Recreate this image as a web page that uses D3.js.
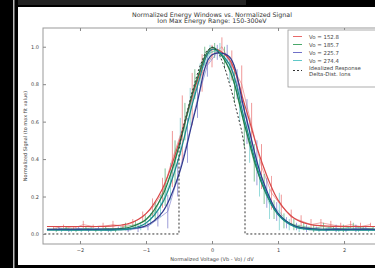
<!DOCTYPE html>
<html>
<head>
<meta charset="utf-8">
<script src="https://cdn.jsdelivr.net/npm/d3@7"></script>
<style>
  body { margin: 0; background: #000; }
  svg { display: block; }
</style>
</head>
<body>
<div class="canvas"></div>
<script>
// ---------- data ----------
var seriesNames = ["Vo = 152.8", "Vo = 185.7", "Vo = 225.7", "Vo = 274.4"];

var fitX = [-2.5, -2.25, -2, -1.75, -1.5, -1.25, -1, -0.75, -0.5, -0.25, 0, 0.25, 0.5, 0.75, 1, 1.25, 1.5, 1.75, 2, 2.25, 2.5];
var fitRed   = [0.040, 0.040, 0.040, 0.040, 0.043, 0.057, 0.109, 0.242, 0.488, 0.790, 0.986, 0.939, 0.684, 0.388, 0.181, 0.083, 0.050, 0.042, 0.040, 0.040, 0.040];
var fitGreen = [0.025, 0.025, 0.025, 0.025, 0.027, 0.036, 0.077, 0.205, 0.468, 0.802, 0.996, 0.890, 0.575, 0.274, 0.106, 0.044, 0.028, 0.025, 0.025, 0.025, 0.025];
var fitBlue  = [0.025, 0.025, 0.025, 0.025, 0.025, 0.028, 0.044, 0.117, 0.319, 0.661, 0.957, 0.950, 0.646, 0.307, 0.112, 0.043, 0.028, 0.025, 0.025, 0.025, 0.025];
var fitCyan  = [0.020, 0.020, 0.020, 0.020, 0.021, 0.027, 0.058, 0.166, 0.410, 0.753, 0.986, 0.914, 0.600, 0.284, 0.104, 0.039, 0.023, 0.020, 0.020, 0.020, 0.020];

var redX = [-2.4, -2.25, -2.1, -1.95, -1.8, -1.65, -1.5, -1.35, -1.2, -1.05, -0.9, -0.75, -0.6, -0.45, -0.3, -0.15, 0, 0.15, 0.3, 0.45, 0.6, 0.75, 0.9, 1.05, 1.2, 1.35, 1.5, 1.65, 1.8, 1.95, 2.1, 2.25, 2.4];
var redY = [0.03, 0.04, 0.03, 0.05, 0.04, 0.04, 0.05, 0.04, 0.06, 0.09, 0.14, 0.22, 0.40, 0.56, 0.72, 0.86, 0.95, 1.00, 0.90, 0.80, 0.58, 0.36, 0.22, 0.15, 0.09, 0.07, 0.05, 0.06, 0.05, 0.04, 0.05, 0.04, 0.05];
var redErr = [0.01, 0.01, 0.01, 0.02, 0.01, 0.02, 0.02, 0.01, 0.02, 0.03, 0.05, 0.08, 0.15, 0.18, 0.14, 0.10, 0.06, 0.05, 0.08, 0.10, 0.12, 0.12, 0.09, 0.06, 0.04, 0.03, 0.03, 0.02, 0.02, 0.02, 0.02, 0.02, 0.01];

var greenX = [-2.36, -2.21, -2.06, -1.91, -1.76, -1.61, -1.46, -1.31, -1.16, -1.01, -0.86, -0.71, -0.56, -0.41, -0.26, -0.11, 0.04, 0.19, 0.34, 0.49, 0.64, 0.79, 0.94, 1.09, 1.24, 1.39, 1.54, 1.69, 1.84, 1.99, 2.14, 2.29, 2.44];
var greenY = [0.02, 0.03, 0.02, 0.03, 0.02, 0.03, 0.02, 0.04, 0.05, 0.07, 0.12, 0.25, 0.38, 0.60, 0.80, 0.95, 0.98, 0.94, 0.80, 0.58, 0.38, 0.24, 0.13, 0.07, 0.05, 0.04, 0.03, 0.04, 0.03, 0.03, 0.04, 0.03, 0.03];
var greenErr = [0.01, 0.01, 0.01, 0.01, 0.01, 0.01, 0.01, 0.02, 0.02, 0.03, 0.05, 0.10, 0.12, 0.10, 0.08, 0.05, 0.04, 0.06, 0.10, 0.12, 0.10, 0.08, 0.05, 0.04, 0.03, 0.02, 0.02, 0.02, 0.01, 0.02, 0.02, 0.01, 0.01];

var blueX = [-2.32, -2.17, -2.02, -1.87, -1.72, -1.57, -1.42, -1.27, -1.12, -0.97, -0.82, -0.67, -0.52, -0.37, -0.22, -0.07, 0.08, 0.23, 0.38, 0.53, 0.68, 0.83, 0.98, 1.13, 1.28, 1.43, 1.58, 1.73, 1.88, 2.03, 2.18, 2.33, 2.48];
var blueY = [0.03, 0.02, 0.03, 0.02, 0.03, 0.02, 0.03, 0.02, 0.03, 0.04, 0.08, 0.12, 0.30, 0.50, 0.72, 0.90, 0.97, 0.96, 0.80, 0.60, 0.38, 0.22, 0.12, 0.06, 0.04, 0.03, 0.03, 0.02, 0.03, 0.02, 0.03, 0.03, 0.02];
var blueErr = [0.01, 0.01, 0.01, 0.01, 0.01, 0.01, 0.01, 0.01, 0.02, 0.02, 0.04, 0.09, 0.10, 0.12, 0.10, 0.06, 0.04, 0.05, 0.08, 0.12, 0.12, 0.08, 0.05, 0.03, 0.02, 0.02, 0.01, 0.01, 0.02, 0.01, 0.02, 0.01, 0.01];

var cyanX = [-2.28, -2.13, -1.98, -1.83, -1.68, -1.53, -1.38, -1.23, -1.08, -0.93, -0.78, -0.63, -0.48, -0.33, -0.18, -0.03, 0.12, 0.27, 0.42, 0.57, 0.72, 0.87, 1.02, 1.17, 1.32, 1.47, 1.62, 1.77, 1.92, 2.07, 2.22, 2.37, 2.52];
var cyanY = [0.02, 0.02, 0.02, 0.03, 0.02, 0.02, 0.03, 0.03, 0.04, 0.08, 0.15, 0.28, 0.52, 0.68, 0.85, 0.97, 0.98, 0.88, 0.70, 0.50, 0.30, 0.16, 0.12, 0.05, 0.03, 0.03, 0.02, 0.03, 0.02, 0.03, 0.02, 0.02, 0.02];
var cyanErr = [0.01, 0.01, 0.01, 0.01, 0.01, 0.01, 0.01, 0.01, 0.02, 0.03, 0.06, 0.10, 0.10, 0.10, 0.06, 0.04, 0.04, 0.07, 0.10, 0.12, 0.10, 0.08, 0.10, 0.03, 0.02, 0.01, 0.01, 0.01, 0.01, 0.01, 0.01, 0.01, 0.01];

// idealized response for delta-distributed ions
var idealX = [-2.6, -0.5, -0.5, -0.45, -0.4, -0.3, -0.2, -0.1, 0, 0.1, 0.2, 0.3, 0.4, 0.45, 0.5, 0.5, 2.6];
var idealY = [0, 0, 0.45, 0.55, 0.62, 0.76, 0.88, 0.97, 1.0, 0.97, 0.88, 0.76, 0.62, 0.55, 0.45, 0, 0];

var xTicks = [-2, -1, 0, 1, 2];
var yTicks = [0, 0.2, 0.4, 0.6, 0.8, 1.0];

var titleLines = ["Normalized Energy Windows vs. Normalized Signal", "Ion Max Energy Range: 150-300eV"];

var dataColors = ["#e86a6a", "#4aa86a", "#7070c8", "#60c8c8"];
var fitColors  = ["#d84848", "#237a46", "#303a8e", "#1a8c8c"];

// ---------- canvas ----------
var width = 375,
	height = 268;

var svg = d3.select(".canvas")
	.append("svg")
	.attr("width", width)
	.attr("height", height);

svg.append("rect").attr("width", width).attr("height", height).attr("fill", "#000");
svg.append("rect").attr("x", 18).attr("y", 0).attr("width", 228).attr("height", 5).attr("fill", "#232323");
svg.append("rect").attr("x", 13).attr("y", 0).attr("width", 1.5).attr("height", height).attr("fill", "#bbb");
svg.append("rect").attr("x", 18).attr("y", 7).attr("width", width - 18).attr("height", 258).attr("fill", "#fff");

var pLeft = 43, pRight = 381, pTop = 28, pBottom = 244;

var scale_x = d3.scaleLinear()
	.domain([-2.56, 2.56])
	.range([pLeft, pRight]);

var scale_y = d3.scaleLinear()
	.domain([-0.0535, 1.1])
	.range([pBottom, pTop]);

var font = "DejaVu Sans, sans-serif";

/* ---------- title ---------- */
svg.selectAll(".title")
	.data(titleLines)
	.enter().append("text")
	.attr("x", 212)
	.attr("y", function(d, i) { return 16.5 + i * 6.8; })
	.attr("text-anchor", "middle")
	.attr("font-family", font)
	.attr("font-size", 6.3)
	.attr("fill", "#333")
	.text(function(d) { return d; });

/* ---------- plot ---------- */
svg.append("clipPath").attr("id", "clip")
	.append("rect").attr("x", pLeft).attr("y", pTop).attr("width", pRight - pLeft).attr("height", pBottom - pTop);

var plot = svg.append("g").attr("clip-path", "url(#clip)");

var series = [
	{x: redX, y: redY, err: redErr, fit: fitRed},
	{x: greenX, y: greenY, err: greenErr, fit: fitGreen},
	{x: blueX, y: blueY, err: blueErr, fit: fitBlue},
	{x: cyanX, y: cyanY, err: cyanErr, fit: fitCyan}
];

var dataLine = d3.line()
	.x(function(d) { return scale_x(d[0]); })
	.y(function(d) { return scale_y(d[1]); });

var fitLine = d3.line()
	.x(function(d) { return scale_x(d[0]); })
	.y(function(d) { return scale_y(d[1]); })
	.curve(d3.curveCatmullRom);

// measured data with error bars
series.forEach(function(s, i) {
	var pts = s.x.map(function(x, k) { return [x, s.y[k], s.err[k]]; });
	plot.append("path")
		.datum(pts)
		.attr("d", dataLine)
		.attr("fill", "none")
		.attr("stroke", dataColors[i])
		.attr("stroke-width", 0.7)
		.attr("opacity", 0.85);
	plot.selectAll(".err" + i)
		.data(pts)
		.enter().append("line")
		.attr("x1", function(d) { return scale_x(d[0]); })
		.attr("x2", function(d) { return scale_x(d[0]); })
		.attr("y1", function(d) { return scale_y(d[1] - d[2]); })
		.attr("y2", function(d) { return scale_y(d[1] + d[2]); })
		.attr("stroke", dataColors[i])
		.attr("stroke-width", 0.8)
		.attr("opacity", 0.85);
});

// fitted curves
series.forEach(function(s, i) {
	plot.append("path")
		.datum(fitX.map(function(x, k) { return [x, s.fit[k]]; }))
		.attr("d", fitLine)
		.attr("fill", "none")
		.attr("stroke", fitColors[i])
		.attr("stroke-width", 1.2);
});

// idealized response
plot.append("path")
	.datum(idealX.map(function(x, k) { return [x, idealY[k]]; }))
	.attr("d", dataLine)
	.attr("fill", "none")
	.attr("stroke", "#333")
	.attr("stroke-width", 1)
	.attr("stroke-dasharray", "2,2");

/* ---------- axes ---------- */
svg.append("rect")
	.attr("x", pLeft).attr("y", pTop)
	.attr("width", pRight - pLeft).attr("height", pBottom - pTop)
	.attr("fill", "none")
	.attr("stroke", "#999")
	.attr("stroke-width", 1);

var axisB = svg.append("g")
	.attr("transform", "translate(0," + pBottom + ")")
	.call(d3.axisBottom(scale_x).tickValues(xTicks).tickSize(-3).tickPadding(4)
		.tickFormat(function(d) { return d < 0 ? "\u2212" + Math.abs(d) : d; }));
var axisT = svg.append("g")
	.attr("transform", "translate(0," + pTop + ")")
	.call(d3.axisTop(scale_x).tickValues(xTicks).tickSize(-3).tickFormat(""));
var axisL = svg.append("g")
	.attr("transform", "translate(" + pLeft + ",0)")
	.call(d3.axisLeft(scale_y).tickValues(yTicks).tickSize(-3).tickPadding(4).tickFormat(d3.format(".1f")));

[axisB, axisT, axisL].forEach(function(a) {
	a.select(".domain").remove();
	a.selectAll("line").attr("stroke", "#888");
	a.selectAll("text")
		.attr("font-family", font)
		.attr("font-size", 5)
		.attr("fill", "#444");
});

svg.append("text")
	.attr("x", 212)
	.attr("y", 261)
	.attr("text-anchor", "middle")
	.attr("font-family", font)
	.attr("font-size", 5)
	.attr("fill", "#444")
	.text("Normalized Voltage (Vb - Vo) / dV");

svg.append("text")
	.attr("transform", "translate(27," + ((pTop + pBottom) / 2) + ") rotate(-90)")
	.attr("text-anchor", "middle")
	.attr("font-family", font)
	.attr("font-size", 5)
	.attr("fill", "#444")
	.text("Normalized Signal (to max fit value)");

/* ---------- legend ---------- */
var legend = svg.append("g").attr("transform", "translate(288,30)");
legend.append("rect")
	.attr("width", 92).attr("height", 57)
	.attr("fill", "#fff")
	.attr("stroke", "#999")
	.attr("stroke-width", 0.8);

seriesNames.forEach(function(name, i) {
	var y = 6.5 + i * 8;
	legend.append("line")
		.attr("x1", 5).attr("x2", 14).attr("y1", y).attr("y2", y)
		.attr("stroke", dataColors[i]).attr("stroke-width", 1);
	legend.append("text")
		.attr("x", 21).attr("y", y + 2)
		.attr("font-family", font).attr("font-size", 5.4).attr("fill", "#444")
		.text(name);
});
legend.append("line")
	.attr("x1", 5).attr("x2", 14).attr("y1", 40.5).attr("y2", 40.5)
	.attr("stroke", "#333").attr("stroke-width", 1).attr("stroke-dasharray", "2,2");
legend.selectAll(".ideal")
	.data(["Idealized Response", "Delta-Dist. Ions"])
	.enter().append("text")
	.attr("x", 21)
	.attr("y", function(d, i) { return 39.5 + i * 6; })
	.attr("font-family", font).attr("font-size", 5.4).attr("fill", "#444")
	.text(function(d) { return d; });
</script>
</body>
</html>
